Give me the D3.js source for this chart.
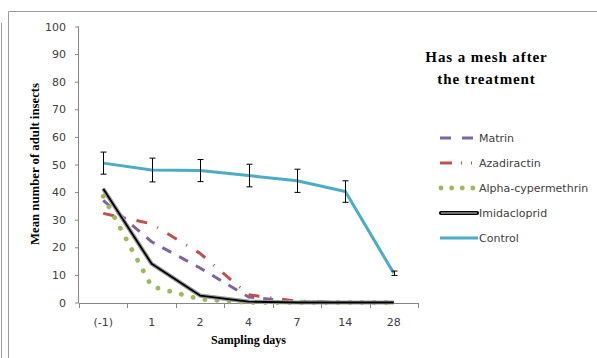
<!DOCTYPE html>
<html><head><meta charset="utf-8">
<script src="https://cdn.jsdelivr.net/npm/d3@7"></script>
<style>body{margin:0;background:#fff}svg{display:block}</style>
</head><body>
<script>
const categories = ["(-1)","1","2","4","7","14","28"];
const matrin = [37, 22, 12.5, 2, 0.3, 0, 0];
const azadiractin = [32.3, 28.5, 17.8, 2.8, 0.5, 0, 0];
const alphaCypermethrin = [38.5, 5.8, 1.2, 0, 0, 0, 0];
const imidacloprid = [41.2, 14, 2.5, 0.3, 0, 0, 0];
const control = [50.5, 48, 47.8, 46, 44.1, 40.2, 10.6];
const controlErr = [4, 4.3, 4, 4.1, 4.2, 3.9, 0.8];
const yTicks = [0,10,20,30,40,50,60,70,80,90,100];
const seriesNames = ["Matrin","Azadiractin","Alpha-cypermethrin","Imidacloprid","Control"];

const W = 597, H = 358;
const svg = d3.select("body").append("svg").attr("width", W).attr("height", H);

// outer frame
svg.append("line").attr("x1",8.5).attr("x2",W).attr("y1",11.5).attr("y2",11.5).attr("stroke","#9a9a9a");
svg.append("line").attr("x1",8.5).attr("x2",8.5).attr("y1",11.5).attr("y2",H).attr("stroke","#9a9a9a");
svg.append("line").attr("x1",1.5).attr("x2",1.5).attr("y1",23).attr("y2",H).attr("stroke","#9a9a9a");

const x = d3.scaleBand().domain(categories).range([79, 418]).padding(0);
const y = d3.scaleLinear().domain([0,100]).range([302.5, 26.5]);
const cx = c => x(c) + x.bandwidth()/2;

// y axis
const yAxis = svg.append("g").attr("transform","translate(79,0)")
  .call(d3.axisLeft(y).tickValues(yTicks).tickSize(4).tickPadding(9));
yAxis.select(".domain").attr("stroke","#868686").attr("d","M-0.5,"+y(100)+"V"+(y(0)+0.5));
yAxis.selectAll(".tick line").attr("stroke","#868686");
yAxis.selectAll(".tick text").attr("fill","#404040").style("font-family","DejaVu Sans").style("font-size","11px");
yAxis.selectAll(".tick").attr("transform", d => "translate(0," + (y(d)+0.5) + ")");

// x axis
const xAxis = svg.append("g").attr("transform","translate(0,"+(y(0)+0.5)+")")
  .call(d3.axisBottom(x).tickSize(0).tickPadding(15));
xAxis.select(".domain").attr("stroke","#868686");
xAxis.selectAll(".tick text").attr("fill","#404040").style("font-family","DejaVu Sans").style("font-size","11px");
const bounds = categories.map(c => x(c)).concat([x(categories[categories.length-1]) + x.bandwidth()]);
xAxis.selectAll("line.bnd").data(bounds).enter().append("line").attr("class","bnd")
  .attr("x1", d => Math.round(d)+0.5).attr("x2", d => Math.round(d)+0.5)
  .attr("y1", 0).attr("y2", 5).attr("stroke","#868686");

// axis titles
svg.append("text").attr("x",248.5).attr("y",344).attr("text-anchor","middle")
  .style("font-family","Liberation Serif").style("font-weight","bold").style("font-size","12px")
  .text("Sampling days");
svg.append("text").attr("transform","translate(39,164) rotate(-90)").attr("text-anchor","middle")
  .attr("textLength",162).attr("lengthAdjust","spacingAndGlyphs")
  .style("font-family","Liberation Serif").style("font-weight","bold").style("font-size","12px")
  .text("Mean number of adult insects");

// chart title
const title = svg.append("text").attr("text-anchor","middle")
  .style("font-family","Liberation Serif").style("font-weight","bold").style("font-size","15px")
  .style("letter-spacing","0.9px");
title.append("tspan").attr("x",486.5).attr("y",62).text("Has a mesh after");
title.append("tspan").attr("x",486.5).attr("y",83.5).text("the treatment");

const line = d3.line().x((d,i) => cx(categories[i])).y(d => y(d));

const styles = {
  "Matrin": {data: matrin, color:"#8064A2", w:3, dash:"10,9", legDash:"11,11", cap:"butt"},
  "Azadiractin": {data: azadiractin, color:"#C0504D", w:3, dash:"11,11,1,11", legDash:"12,9,1,9,1,9", cap:"butt"},
  "Alpha-cypermethrin": {data: alphaCypermethrin, color:"#9BBB59", w:4.8, dash:"0.1,12", legDash:"0.1,10.5", cap:"round"},
  "Imidacloprid": {data: imidacloprid, color:"#000"},
  "Control": {data: control, color:"#4BACC6", w:3}
};

const order = ["Matrin","Azadiractin","Alpha-cypermethrin","Imidacloprid","Control"];
order.forEach(name => {
  const s = styles[name];
  if (name === "Imidacloprid") {
    svg.append("path").datum(s.data).attr("d", line).attr("fill","none")
      .attr("stroke","#9a9a9a").attr("stroke-width",4.2).attr("stroke-linejoin","round");
    svg.append("path").datum(s.data).attr("d", line).attr("fill","none")
      .attr("stroke","#000").attr("stroke-width",1.8).attr("stroke-linejoin","round");
  } else {
    svg.append("path").datum(s.data).attr("d", line).attr("fill","none")
      .attr("stroke", s.color).attr("stroke-width", s.w)
      .attr("stroke-dasharray", s.dash || null)
      .attr("stroke-linecap", s.cap || "butt").attr("stroke-linejoin","round");
  }
});

// error bars for control
const eb = svg.append("g").attr("stroke","#000").attr("stroke-width",1);
control.forEach((v,i) => {
  const xc = Math.round(cx(categories[i])) + 0.5;
  const top = y(v + controlErr[i]), bot = y(v - controlErr[i]);
  eb.append("line").attr("x1",xc).attr("x2",xc).attr("y1",top).attr("y2",bot);
  eb.append("line").attr("x1",xc-3).attr("x2",xc+3).attr("y1",top).attr("y2",top);
  eb.append("line").attr("x1",xc-3).attr("x2",xc+3).attr("y1",bot).attr("y2",bot);
});

// legend
const legY = [138, 163, 188, 213, 238];
seriesNames.forEach((name, i) => {
  const s = styles[name];
  const g = svg.append("g").attr("transform","translate(0,"+legY[i]+")");
  if (name === "Imidacloprid") {
    g.append("line").attr("x1",441).attr("x2",477).attr("y1",0).attr("y2",0)
      .attr("stroke","#000").attr("stroke-width",4.2).attr("stroke-linecap","round");
    g.append("line").attr("x1",441).attr("x2",477).attr("y1",0).attr("y2",0)
      .attr("stroke","#ddd").attr("stroke-width",1.2);
  } else {
    g.append("line").attr("x1", name==="Alpha-cypermethrin" ? 441 : 440).attr("x2",478).attr("y1",0).attr("y2",0)
      .attr("stroke", s.color).attr("stroke-width", s.w)
      .attr("stroke-dasharray", s.legDash || null).attr("stroke-linecap", s.cap || "butt");
  }
  g.append("text").attr("x",479).attr("y",4).attr("fill","#404040")
    .style("font-family","DejaVu Sans").style("font-size","11px").text(name);
});
</script>
</body></html>
